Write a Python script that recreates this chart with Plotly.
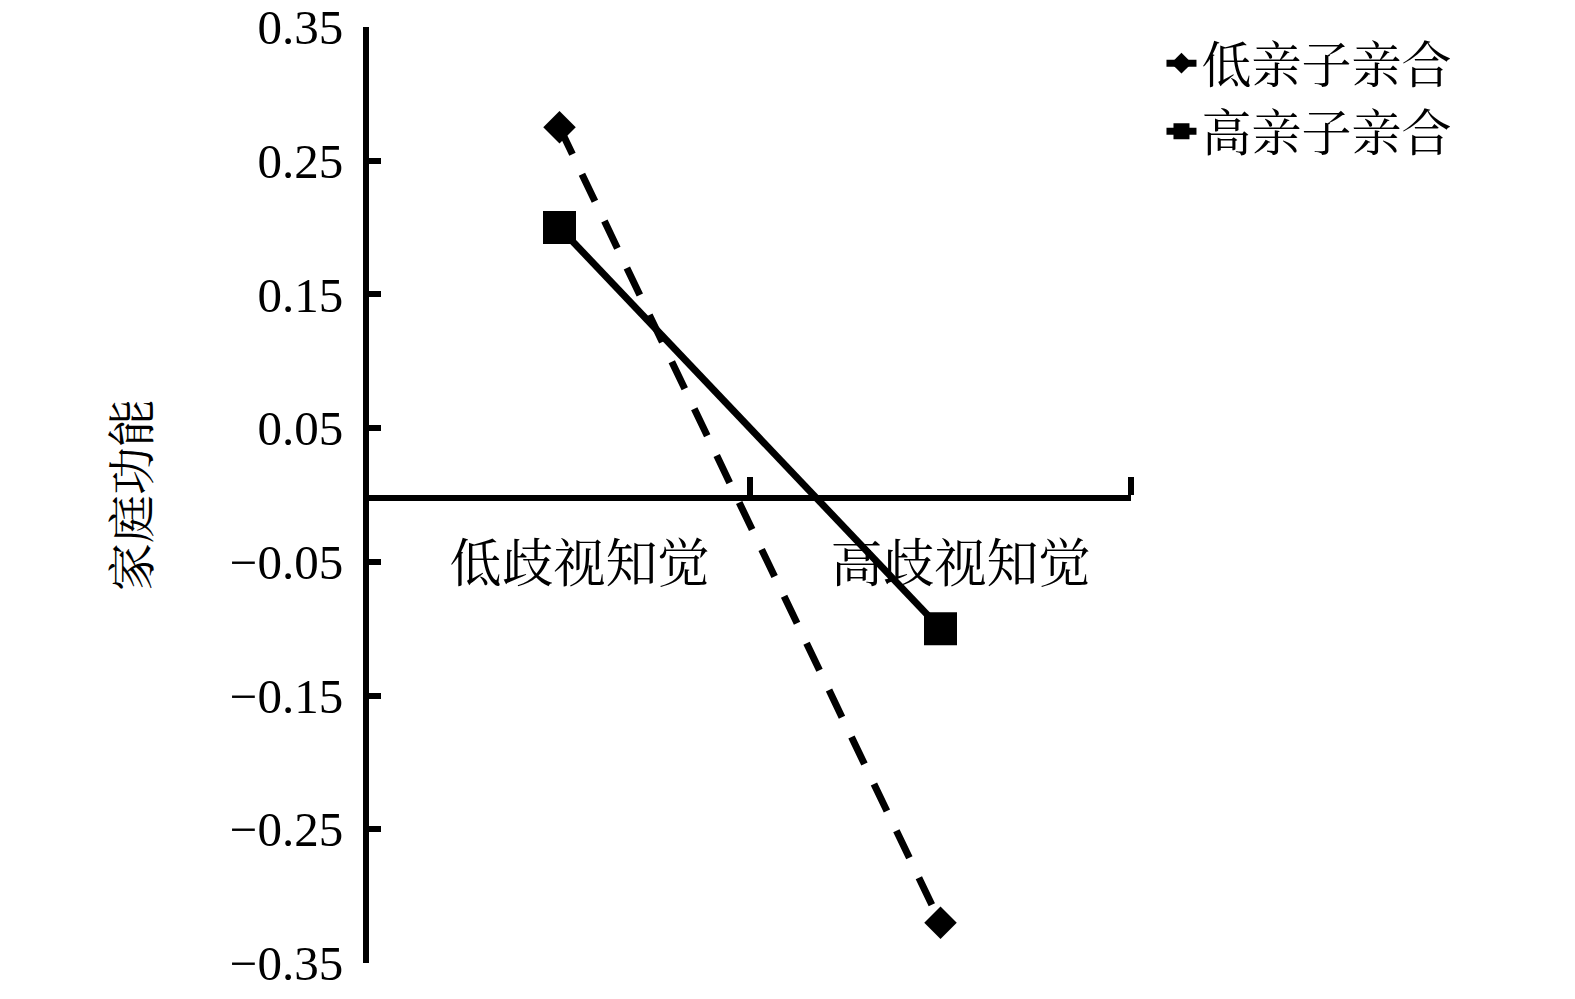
import plotly.graph_objects as go

categories = ["低歧视知觉", "高歧视知觉"]
low_bond = [0.275, -0.32]     # 低亲子亲合
high_bond = [0.20, -0.10]     # 高亲子亲合
series_names = ["低亲子亲合", "高亲子亲合"]
y_ticks = [0.35, 0.25, 0.15, 0.05, -0.05, -0.15, -0.25, -0.35]
y_title = "家庭功能"

NUM_FONT = "Liberation Serif, Times New Roman, serif"
CJK_FONT = "Noto Serif CJK SC, Noto Sans CJK SC, serif"

xpos = list(range(len(categories)))                 # category centres
boundaries = [i + 0.5 for i in xpos]                # category boundaries

fig = go.Figure()
fig.add_trace(go.Scatter(
    x=xpos, y=low_bond, name=series_names[0], mode="lines+markers",
    line=dict(color="black", width=7, dash="30px,22px"),
    marker=dict(symbol="diamond", size=25, color="black"),
    cliponaxis=False,
))
fig.add_trace(go.Scatter(
    x=xpos, y=high_bond, name=series_names[1], mode="lines+markers",
    line=dict(color="black", width=7),
    marker=dict(symbol="square", size=33, color="black"),
    cliponaxis=False,
))

fig.update_layout(
    width=1575, height=999,
    margin=dict(l=369, r=444, t=27, b=36, autoexpand=False),
    paper_bgcolor="white", plot_bgcolor="white",
    showlegend=True,
    legend=dict(
        x=1.04, y=1.003, xanchor="left", yanchor="top",
        font=dict(family=CJK_FONT, size=50, color="black"),
        bgcolor="rgba(0,0,0,0)",
        tracegroupgap=0,
    ),
    xaxis=dict(
        range=[-0.5, 1.50001],
        anchor="free", position=0.4968,
        showline=True, linecolor="black", linewidth=6,
        tickvals=xpos, ticktext=categories, ticks="",
        minor=dict(tickvals=boundaries, ticks="inside", ticklen=18, tickwidth=6,
                   tickcolor="black", showgrid=False),
        showgrid=False, zeroline=False, automargin=False,
        tickfont=dict(family=CJK_FONT, size=52, color="black"),
        ticklabelstandoff=19, ticklabelshift=20, ticklabeloverflow="allow",
    ),
    yaxis=dict(
        range=[-0.35001, 0.35001],
        tickvals=y_ticks, tickformat=".2f",
        showline=True, linecolor="black", linewidth=6,
        ticks="inside", ticklen=12, tickwidth=6, tickcolor="black",
        showgrid=False, zeroline=False, automargin=False,
        tickfont=dict(family=NUM_FONT, size=49, color="black"),
        ticklabelstandoff=10, ticklabeloverflow="allow",
        title=dict(text=y_title, font=dict(family=CJK_FONT, size=48, color="black"), standoff=67),
    ),
)

fig.write_html("out.html", config={"displayModeBar": False},
               post_script="document.body.style.margin='0';")
